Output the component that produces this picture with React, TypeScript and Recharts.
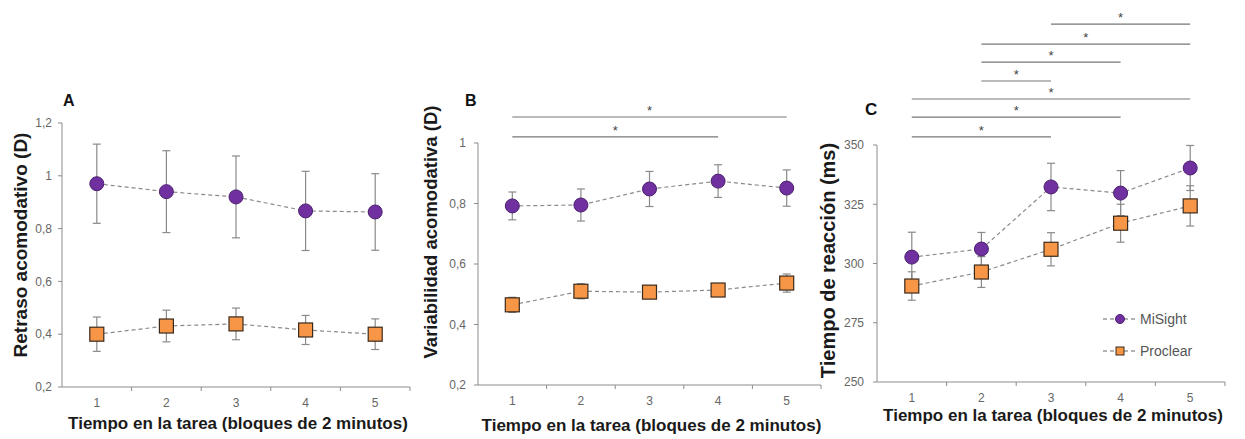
import React from 'react';
import { LineChart, Line, XAxis, YAxis, ErrorBar, ReferenceLine, Legend } from 'recharts';

const blocks = [1, 2, 3, 4, 5];

// A - retraso acomodativo (D)
const lagMiSight = [0.97, 0.94, 0.92, 0.867, 0.863];
const lagMiSightErr = [0.15, 0.155, 0.155, 0.15, 0.145];
const lagProclear = [0.4, 0.431, 0.439, 0.416, 0.4];
const lagProclearErr = [0.065, 0.06, 0.06, 0.055, 0.058];

// B - variabilidad acomodativa (D)
const varMiSight = [0.792, 0.795, 0.848, 0.874, 0.851];
const varMiSightErr = [0.046, 0.053, 0.058, 0.054, 0.06];
const varProclear = [0.465, 0.51, 0.507, 0.514, 0.537];
const varProclearErr = [0.025, 0.025, 0.02, 0.02, 0.03];

// C - tiempo de reaccion (ms)
const rtMiSight = [302.7, 306.1, 332.3, 329.7, 340.3];
const rtMiSightErr = [10.5, 7, 10, 9.5, 9.5];
const rtProclear = [290.5, 296.4, 306, 317, 324.3];
const rtProclearErr = [6, 6.5, 7, 8, 8.5];

const ticksA = [0.2, 0.4, 0.6, 0.8, 1, 1.2];
const ticksB = [0.2, 0.4, 0.6, 0.8, 1];
const ticksC = [250, 275, 300, 325, 350];
// integer ticks carry the labels, half ticks are the category separators
const xTicks = [1, 1.5, 2, 2.5, 3, 3.5, 4, 4.5, 5, 5.5];

// significance brackets (from block, to block, height in axis units)
const sigB = [
  { from: 1, to: 5, level: 1.086 },
  { from: 1, to: 4, level: 1.02 },
];
const sigC = [
  { from: 3, to: 5, level: 401 },
  { from: 2, to: 5, level: 392.6 },
  { from: 2, to: 4, level: 385 },
  { from: 2, to: 3, level: 377 },
  { from: 1, to: 5, level: 369.4 },
  { from: 1, to: 4, level: 361.8 },
  { from: 1, to: 3, level: 353.4 },
];

const PURPLE = '#7030A0';
const ORANGE = '#F79646';
const LINE = '#8a8a8a';
const AXIS = '#8c8c8c';

const makeData = (mi: number[], miErr: number[], pro: number[], proErr: number[]) =>
  blocks.map((b, i) => ({ block: b, mi: mi[i], miErr: miErr[i], pro: pro[i], proErr: proErr[i] }));

const fmt = (v: number) => String(v).replace('.', ',');

const circleDot = (p: any) => (
  <circle key={'c' + p.index} cx={p.cx} cy={p.cy} r={7} fill={PURPLE} stroke="#4a1f6e" strokeWidth={1} />
);
const squareDot = (p: any) => (
  <rect key={'s' + p.index} x={p.cx - 7} y={p.cy - 7} width={14} height={14} fill={ORANGE} stroke="#3b2a1c" strokeWidth={1.2} />
);

const XTick = (props: any) => {
  const { x, y, payload } = props;
  if (Number.isInteger(payload.value)) {
    return (
      <text x={x} y={y + 20} textAnchor="middle" fill="#666" fontSize={12}>
        {payload.value}
      </text>
    );
  }
  return <line x1={x} x2={x} y1={y} y2={y + 4} stroke={AXIS} />;
};

const legendContent = ({ payload }: any) => (
  <div>
    {(payload || []).map((entry: any) => (
      <div key={entry.value} style={{ display: 'flex', alignItems: 'center', height: 32 }}>
        <svg width={34} height={14}>
          <line x1={0} x2={34} y1={7} y2={7} stroke="#666" strokeDasharray="4 3" />
          {entry.value === 'MiSight' ? (
            <circle cx={17} cy={7} r={4.5} fill={PURPLE} stroke="#4a1f6e" />
          ) : (
            <rect x={13} y={3} width={8} height={8} fill={ORANGE} stroke="#3b2a1c" />
          )}
        </svg>
        <span style={{ marginLeft: 3, fontSize: 14, color: '#555' }}>{entry.value}</span>
      </div>
    ))}
  </div>
);

type PanelProps = {
  letter: string;
  letterPos: { left: number; top: number; size: number };
  left: number;
  width: number;
  margin: { top: number; right: number; bottom: number; left: number };
  yAxisWidth: number;
  xAxisHeight: number;
  domain: [number, number];
  ticks: number[];
  tickMargin: number;
  data: any[];
  sig: { from: number; to: number; level: number }[];
  yTitle: string;
  yTitleSize: number;
  yTitleDx: number;
  yTitleDy: number;
  xTitleDy: number;
  legendPos?: { left: number; top: number };
};

const Panel = (p: PanelProps) => {
  const yLabel = (lp: any) => {
    const vb = lp.viewBox;
    const cx = vb.x + p.yTitleDx;
    const cy = vb.y + vb.height / 2 + p.yTitleDy;
    return (
      <text
        transform={`translate(${cx},${cy}) rotate(-90)`}
        textAnchor="middle"
        dominantBaseline="central"
        fontSize={p.yTitleSize}
        fontWeight="bold"
        fill="#1a1a1a"
      >
        {p.yTitle}
      </text>
    );
  };
  const xLabel = (lp: any) => {
    const vb = lp.viewBox;
    return (
      <text
        x={vb.x + vb.width / 2 + 2}
        y={vb.y + p.xTitleDy}
        textAnchor="middle"
        dominantBaseline="central"
        fontSize={17}
        fontWeight="bold"
        fill="#1a1a1a"
      >
        Tiempo en la tarea (bloques de 2 minutos)
      </text>
    );
  };
  return (
    <>
      <div
        style={{
          position: 'absolute',
          left: p.letterPos.left,
          top: p.letterPos.top,
          fontSize: p.letterPos.size,
          fontWeight: 'bold',
          lineHeight: 1,
          color: '#111',
        }}
      >
        {p.letter}
      </div>
      <div style={{ position: 'absolute', left: p.left, top: 0 }}>
        <LineChart width={p.width} height={439} data={p.data} margin={p.margin}>
          <XAxis
            dataKey="block"
            type="number"
            domain={[0.5, 5.5]}
            allowDataOverflow
            ticks={xTicks}
            interval={0}
            tickLine={false}
            tickSize={0}
            tickMargin={0}
            tick={XTick}
            height={p.xAxisHeight}
            stroke={AXIS}
            label={xLabel}
          />
          <YAxis
            type="number"
            domain={p.domain}
            allowDataOverflow
            ticks={p.ticks}
            interval={0}
            width={p.yAxisWidth}
            tickSize={4}
            tickMargin={p.tickMargin}
            stroke={AXIS}
            tick={{ fill: '#666', fontSize: 12 }}
            tickFormatter={fmt}
            label={yLabel}
          />
          {p.sig.map((s, i) => (
            <ReferenceLine
              key={i}
              segment={[
                { x: s.from, y: s.level },
                { x: s.to, y: s.level },
              ]}
              stroke="#777"
              strokeWidth={1.2}
              ifOverflow="visible"
              label={{ value: '*', position: 'top', offset: 2, fill: '#444', fontSize: 13 }}
            />
          ))}
          <Line
            dataKey="mi"
            name="MiSight"
            stroke={LINE}
            strokeWidth={1.2}
            strokeDasharray="4 3"
            dot={circleDot}
            activeDot={false}
            isAnimationActive={false}
          >
            <ErrorBar dataKey="miErr" direction="y" width={4} stroke={LINE} strokeWidth={1.2} isAnimationActive={false} />
          </Line>
          <Line
            dataKey="pro"
            name="Proclear"
            stroke={LINE}
            strokeWidth={1.2}
            strokeDasharray="4 3"
            dot={squareDot}
            activeDot={false}
            isAnimationActive={false}
          >
            <ErrorBar dataKey="proErr" direction="y" width={4} stroke={LINE} strokeWidth={1.2} isAnimationActive={false} />
          </Line>
          {p.legendPos && (
            <Legend
              layout="horizontal"
              verticalAlign="middle"
              align="center"
              wrapperStyle={{ left: p.legendPos.left, top: p.legendPos.top, width: 120 }}
              content={legendContent}
            />
          )}
        </LineChart>
      </div>
    </>
  );
};

export default function App() {
  return (
    <div
      style={{
        position: 'absolute',
        left: 0,
        top: 0,
        width: 1245,
        height: 439,
        background: '#fff',
        fontFamily: '"Liberation Sans", Arial, sans-serif',
      }}
    >
      <Panel
        letter="A"
        letterPos={{ left: 63, top: 93, size: 16 }}
        left={0}
        width={420}
        margin={{ top: 123, right: 10, bottom: 9, left: 5 }}
        yAxisWidth={57}
        xAxisHeight={43}
        domain={[0.2, 1.2]}
        ticks={ticksA}
        tickMargin={6}
        data={makeData(lagMiSight, lagMiSightErr, lagProclear, lagProclearErr)}
        sig={[]}
        yTitle="Retraso acomodativo (D)"
        yTitleSize={19}
        yTitleDx={15}
        yTitleDy={-10}
        xTitleDy={36}
      />
      <Panel
        letter="B"
        letterPos={{ left: 465, top: 93, size: 16 }}
        left={410}
        width={420}
        margin={{ top: 143, right: 9, bottom: 7, left: 5 }}
        yAxisWidth={63}
        xAxisHeight={47}
        domain={[0.2, 1]}
        ticks={ticksB}
        tickMargin={8}
        data={makeData(varMiSight, varMiSightErr, varProclear, varProclearErr)}
        sig={sigB}
        yTitle="Variabilidad acomodativa (D)"
        yTitleSize={18.5}
        yTitleDx={15}
        yTitleDy={-32}
        xTitleDy={40}
      />
      <Panel
        letter="C"
        letterPos={{ left: 865, top: 101, size: 17 }}
        left={805}
        width={440}
        margin={{ top: 145, right: 20, bottom: 17, left: 20 }}
        yAxisWidth={52}
        xAxisHeight={40}
        domain={[250, 350]}
        ticks={ticksC}
        tickMargin={9}
        data={makeData(rtMiSight, rtMiSightErr, rtProclear, rtProclearErr)}
        sig={sigC}
        yTitle="Tiempo de reacción (ms)"
        yTitleSize={20}
        yTitleDx={3}
        yTitleDy={-3}
        xTitleDy={33}
        legendPos={{ left: 298, top: 303 }}
      />
    </div>
  );
}
